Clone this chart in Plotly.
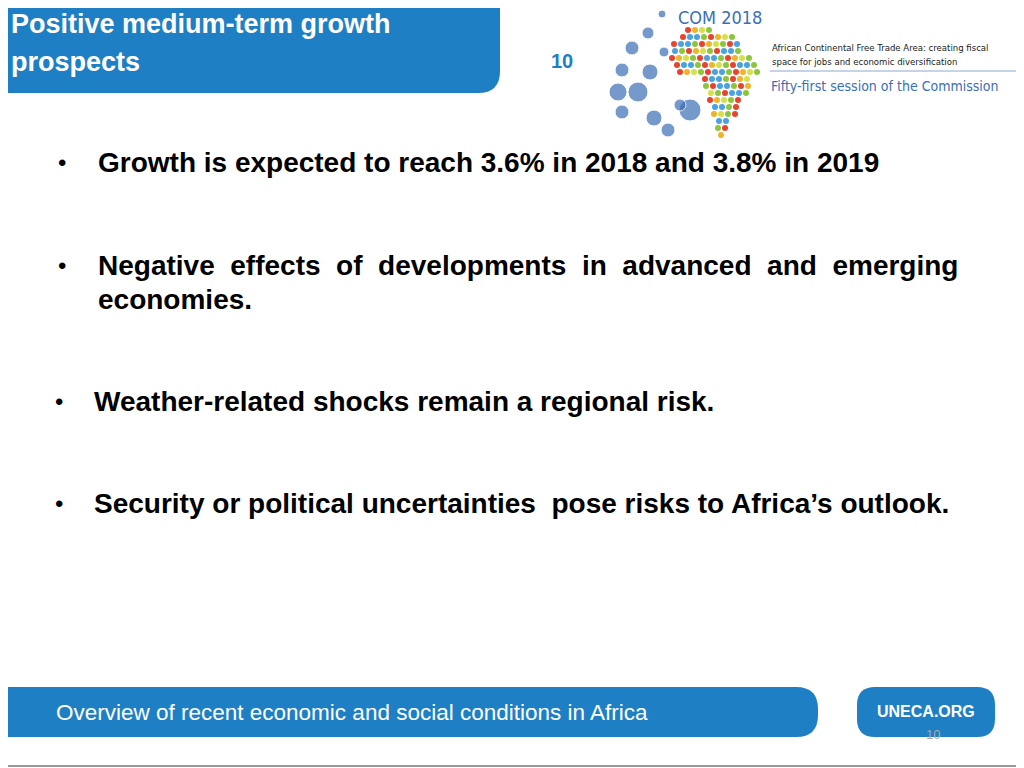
import plotly.graph_objects as go

title_lines = ["Positive medium-term growth", "prospects"]
bullets = [
    ("Growth is expected to reach 3.6% in 2018 and 3.8% in 2019", 162, 62, 96),
    ("Negative  effects  of  developments  in  advanced  and  emerging", 265, 62, 96),
    ("economies.", 299, None, 96),
    ("Weather-related shocks remain a regional risk.", 401, 59, 92),
    ("Security or political uncertainties  pose risks to Africa’s outlook.", 503, 59, 92),
]
footer_text = "Overview of recent economic and social conditions in Africa"
site_text = "UNECA.ORG"
page_no = "10"

# logo: Africa-like rows of dots (row y, x start, x end)
africa_rows = [(30, 688, 712), (37, 680, 732), (44, 674, 738), (51, 672, 744), (58, 672, 752),
               (65, 674, 756), (72, 680, 760), (79, 702, 752), (86, 706, 748), (93, 708, 746),
               (100, 710, 742), (107, 712, 740), (114, 714, 736), (121, 716, 732), (128, 718, 728),
               (135, 718, 724)]
dot_colors = ["#e8432e", "#8cc63f", "#4aa3df", "#f0b429", "#e8432e", "#8cc63f", "#d6e04a", "#4aa3df"]
blue_x = [662, 648, 632, 622, 618, 622, 638, 650, 664, 690, 654, 668, 680]
blue_y = [14, 33, 48, 70, 92, 112, 92, 72, 52, 110, 118, 130, 105]
blue_s = [8, 12, 14, 14, 18, 14, 20, 16, 10, 22, 16, 14, 12]

BLUE = "#1f7fc4"
OFF = 8  # browser page margin compensation

def rrect(x0, y0, x1, y1, r):
    return (f"M{x0},{y0} L{x1-r},{y0} Q{x1},{y0} {x1},{y0+r} L{x1},{y1-r} Q{x1},{y1} {x1-r},{y1} "
            f"L{x0},{y1} Z")

def rrect_all(x0, y0, x1, y1, r):
    return (f"M{x0+r},{y0} L{x1-r},{y0} Q{x1},{y0} {x1},{y0+r} L{x1},{y1-r} Q{x1},{y1} {x1-r},{y1} "
            f"L{x0+r},{y1} Q{x0},{y1} {x0},{y1-r} L{x0},{y0+r} Q{x0},{y0} {x0+r},{y0} Z")

fig = go.Figure()
dx, dy, dc = [], [], []
k = 0
for (y, xa, xb) in africa_rows:
    x = xa + (y // 7 % 2) * 3
    while x <= xb:
        dx.append(x); dy.append(y); dc.append(dot_colors[k % len(dot_colors)]); k += 3
        x += 7
fig.add_trace(go.Scatter(x=dx, y=dy, mode="markers", marker=dict(size=6, color=dc), hoverinfo="skip"))
fig.add_trace(go.Scatter(x=blue_x, y=blue_y, mode="markers", marker=dict(size=blue_s, color="#3a6fb5"), hoverinfo="skip"))

shapes = [
    dict(type="path", path=rrect(-20, -20, 500, 93, 22), fillcolor=BLUE, line=dict(width=0), layer="below"),
    dict(type="path", path=rrect(-20, 687, 818, 737, 22), fillcolor=BLUE, line=dict(width=0), layer="below"),
    dict(type="path", path=rrect_all(857, 687, 995, 737, 18), fillcolor=BLUE, line=dict(width=0), layer="below"),
    dict(type="line", x0=0, x1=1024, y0=766, y1=766, line=dict(color="#999999", width=2)),
    dict(type="line", x0=770, x1=1022, y0=71, y1=71, line=dict(color="#8aa8cc", width=1)),
]
ann = []
F = "Liberation Sans, Arial"
ann.append(dict(x=9, y=24, text="<b>" + title_lines[0] + "</b>", font=dict(family=F, size=27, color="white"), xanchor="left"))
ann.append(dict(x=9, y=62, text="<b>" + title_lines[1] + "</b>", font=dict(family=F, size=27, color="white"), xanchor="left"))
ann.append(dict(x=562, y=61, text="<b>" + page_no + "</b>", font=dict(family=F, size=20, color=BLUE)))
for t, y, bx, tx in bullets:
    if bx:
        ann.append(dict(x=bx, y=y, text="•", font=dict(family=F, size=24, color="black")))
    ann.append(dict(x=tx, y=y, text="<b>" + t + "</b>", font=dict(family=F, size=28, color="black"), xanchor="left"))
ann.append(dict(x=54, y=712, text=footer_text, font=dict(family=F, size=22.5, color="white"), xanchor="left"))
ann.append(dict(x=926, y=711, text="<b>" + site_text + "</b>", font=dict(family=F, size=16, color="white")))
ann.append(dict(x=933, y=734, text=page_no, font=dict(family=F, size=13, color="#aaaaaa")))
ann.append(dict(x=676, y=17, text="COM 2018", font=dict(family="DejaVu Sans Condensed", size=18, color="#3a6fb5"), xanchor="left"))
ann.append(dict(x=770, y=47, text="African Continental Free Trade Area: creating fiscal", font=dict(family="DejaVu Sans Condensed", size=9.5, color="#222"), xanchor="left"))
ann.append(dict(x=770, y=61, text="space for jobs and economic diversification", font=dict(family="DejaVu Sans Condensed", size=9.5, color="#222"), xanchor="left"))
ann.append(dict(x=769, y=86, text="Fifty-first session of the Commission", font=dict(family="DejaVu Sans Condensed", size=14, color="#3a6fb5"), xanchor="left"))
for a in ann:
    a.update(showarrow=False, yanchor="middle", xref="x", yref="y")
    a.setdefault("xanchor", "center")

fig.update_layout(width=1024, height=768, margin=dict(l=0, r=0, t=0, b=0), showlegend=False,
                  plot_bgcolor="white", paper_bgcolor="white", shapes=shapes, annotations=ann,
                  xaxis=dict(range=[OFF, 1024 + OFF], visible=False, fixedrange=True),
                  yaxis=dict(range=[768 + OFF, OFF], visible=False, fixedrange=True))
fig.write_html("out.html", config={"displayModeBar": False})
